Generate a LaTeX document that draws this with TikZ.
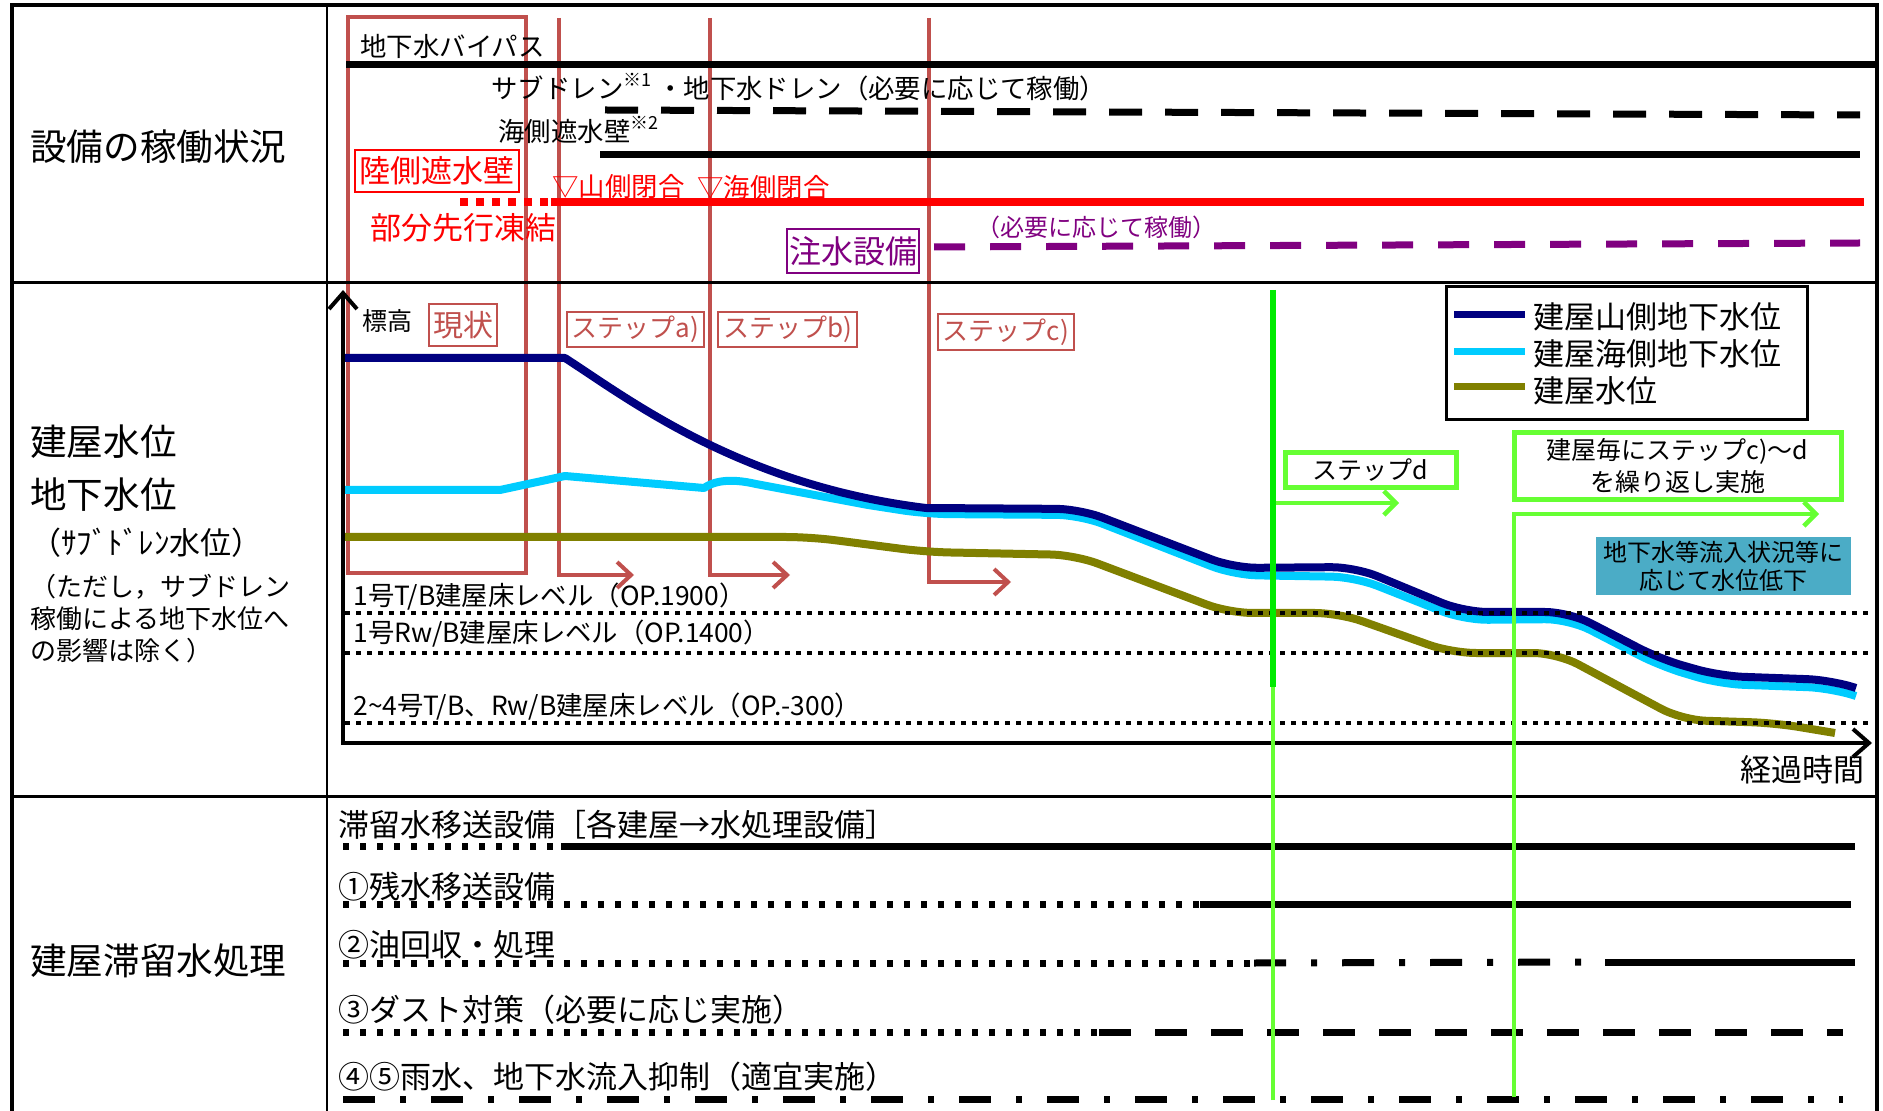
\documentclass[tikz,border=0pt]{standalone}
\usepackage{fontspec}
\setmainfont{Noto Sans CJK JP}
\usepackage{color,xcolor}
\usetikzlibrary{arrows.meta}

\definecolor{steprd}{RGB}{192,80,77}
\definecolor{yamaside}{RGB}{0,0,128}
\definecolor{umiside}{RGB}{0,204,255}
\definecolor{bldgwater}{RGB}{128,128,0}
\definecolor{injpurple}{RGB}{128,0,128}
\definecolor{brightgreen}{RGB}{0,235,0}
\definecolor{lightgreen}{RGB}{102,255,51}
\definecolor{infoblue}{RGB}{75,172,198}

\newcommand{\fsz}[1]{\fontsize{#1}{#1}\selectfont}

\begin{document}
\begin{tikzpicture}[x=0.5pt,y=-0.5pt,
    txt/.style={inner sep=0pt,anchor=west,font=\fsz{13.2}},
    head/.style={inner sep=0pt,anchor=west,font=\fsz{18.3}},
    stepbox/.style={draw=steprd,line width=1.2pt,text=steprd,fill=white,inner sep=0pt,minimum height=17.5pt,font=\fsz{13}},
    stepline/.style={steprd,line width=2pt,-{Straight Barb[length=7pt,width=13pt]}},
    bar/.style={line width=3.5pt},
    dots/.style={line width=3.5pt,dash pattern=on 3pt off 5.5pt},
    dashbar/.style={line width=3.5pt,dash pattern=on 16pt off 12pt},
    dashdot/.style={line width=3.5pt,dash pattern=on 16pt off 12.5pt on 3pt off 12.5pt},
    level/.style={line width=2pt,dash pattern=on 2.5pt off 3pt},
    curve/.style={line width=4pt,line join=round},
    gline/.style={lightgreen,line width=2.3pt,-{Straight Barb[length=6pt,width=12pt]}},
    gbox/.style={draw=lightgreen,line width=2.5pt,fill=white,inner sep=0pt},
  ]
            \useasboundingbox (0,0) rectangle (1883,1111);

            \draw[steprd,line width=2pt] (348,17) rectangle (526,573);
            \draw[stepline] (559,18) -- (559,575) -- (634,575);
            \draw[stepline] (710,18) -- (710,575) -- (790,575);
            \draw[stepline] (929,18) -- (929,582) -- (1011,582);

            \draw[line width=2pt] (12,1111) -- (12,5) -- (1877,5) -- (1877,1111);
            \draw[line width=1.5pt] (12,283) -- (1877,283);
            \draw[line width=1.5pt] (12,796) -- (1877,796);
            \draw[line width=1.2pt] (327,5) -- (327,1111);

            \node[head] (hdrplant) at (30,147) {設備の稼働状況};
            \node[head] (hdrbldg) at (30,442) {建屋水位};
            \node[head] (hdrground) at (30,495) {地下水位};
            \node[txt,font=\fsz{15.5}] (hdrsub) at (30,543) {（ｻﾌﾞﾄﾞﾚﾝ水位）};
            \node[txt,align=left,font=\fontsize{13}{16}\selectfont] (hdrnote) at (30,619) {（ただし，サブドレン\\稼働による地下水位へ\\の影響は除く）};
            \node[head] (hdrtreat) at (30,961) {建屋滞留水処理};

            \node[txt] (bypass) at (360,46) {地下水バイパス};
            \draw[bar] (346,65) -- (1877,65);
            \node[txt] (subdrain) at (491,87) {サブドレン\raisebox{.45em}{\fsz{9}※1}\hspace{3pt}・地下水ドレン（必要に応じて稼働）};
            \draw[dashbar,dash pattern=on 16.5pt off 11.5pt] (605,110) -- (1860,115);
            \node[txt] (seawall) at (498,130) {海側遮水壁\raisebox{.45em}{\fsz{9}※2}};
            \draw[bar] (600,155) -- (1860,155);

            \node[draw=red,line width=1pt,text=red,inner sep=0pt,minimum width=82pt,minimum height=21pt,font=\fsz{15.5}] (landwall) at (437,171) {陸側遮水壁};
            \node[txt,text=red,font=\fsz{15.5}] (partfreeze) at (370,228) {部分先行凍結};
            \node[txt,text=red] (yamaclose) at (552,187) {▽山側閉合};
            \node[txt,text=red] (umiclose) at (697,187) {▽海側閉合};
            \draw[red,line width=4pt,dash pattern=on 4pt off 4pt] (460,202) -- (551,202);
            \draw[red,line width=4pt] (551,202) -- (1864,202);

            \node[draw=injpurple,line width=1.2pt,text=injpurple,inner sep=0pt,minimum width=66pt,minimum height=22pt,font=\fsz{16}] (injection) at (853,251) {注水設備};
            \node[txt,text=injpurple,font=\fsz{12}] (injnote) at (976,227) {（必要に応じて稼働）};
            \draw[injpurple,line width=3.5pt,dash pattern=on 15.5pt off 12.5pt] (934,247) -- (1860,243);

            \node[stepbox,minimum width=34pt,minimum height=21pt,font=\fsz{15}] (now) at (463,325) {現状};
            \node[stepbox,minimum width=68.5pt] (stepa) at (635.5,329.5) {ステップa)};
            \node[stepbox,minimum width=69.5pt] (stepb) at (787.5,329.5) {ステップb)};
            \node[stepbox,minimum width=68pt,minimum height=18pt] (stepc) at (1006,332) {ステップc)};

            \node[txt,font=\fsz{12.5}] (elev) at (362,321) {標高};
            \node[txt,font=\fsz{15.5}] (elapsed) at (1740,770) {経過時間};

            \draw[umiside,curve] (345,490) -- (500,490) -- (565,476) -- (704,488) .. controls (714,481) and (730,478) .. (756,484) -- (868,505) [rounded corners=12pt] -- (926,514) -- (1080,515) -- (1234,575) -- (1355,577) -- (1464,620) -- (1569,619) -- (1660,666) -- (1720,684) -- (1831,688) -- (1856,696);
            \draw[yamaside,curve] (345,358) -- (565,358) .. controls (630,400) and (740,485) .. (926,508) [rounded corners=12pt] -- (1080,509) -- (1234,568) -- (1355,567) -- (1464,612) -- (1569,612) -- (1660,659) -- (1720,676) -- (1831,680) -- (1856,688);
            \draw[bldgwater,curve,rounded corners=12pt] (345,537) -- (810,537) -- (926,552) -- (1075,555) -- (1229,613) -- (1339,613) -- (1452,653) -- (1557,653) -- (1682,720) -- (1775,723) -- (1835,733);

            \draw[level] (345,613) -- (1868,613);
            \draw[level] (345,653) -- (1868,653);
            \draw[level] (345,723) -- (1868,723);
            \node[txt] (op1900) at (353,597) {1号T/B建屋床レベル（OP.1900）};
            \node[txt] (op1400) at (353,634) {1号Rw/B建屋床レベル（OP.1400）};
            \node[txt] (op300) at (353,707) {2\textasciitilde4号T/B、Rw/B建屋床レベル（OP.-300）};

            \draw[line width=2pt,{Straight Barb[length=8pt,width=14pt]}-{Straight Barb[length=8pt,width=14pt]}] (343,290) -- (343,743) -- (1872,743);

            \node[draw,line width=1.5pt,fill=white,inner sep=0pt,minimum width=180.5pt,minimum height=66.5pt] (legend) at (1626.5,353.5) {};
            \draw[yamaside,line width=3.5pt] (1454,315) -- (1525,315);
            \draw[umiside,line width=3.5pt] (1454,352) -- (1525,352);
            \draw[bldgwater,line width=3.5pt] (1454,387) -- (1525,387);
            \node[txt,font=\fsz{15.5}] (legyama) at (1533,317) {建屋山側地下水位};
            \node[txt,font=\fsz{15.5}] (legumi) at (1533,354) {建屋海側地下水位};
            \node[txt,font=\fsz{15.5}] (legbldg) at (1533,391) {建屋水位};

            \node[fill=infoblue,inner sep=0pt,minimum width=127.5pt,minimum height=29pt,align=center,font=\fontsize{12}{14}\selectfont] (lowering) at (1723.5,566) {地下水等流入状況等に\\応じて水位低下};

            \node[txt,font=\fsz{15.5}] (transfer) at (338,825) {滞留水移送設備［各建屋→水処理設備］};
            \node[txt,font=\fsz{15.5}] (residual) at (338,887) {①残水移送設備};
            \node[txt,font=\fsz{15.5}] (oil) at (338,945) {②油回収・処理};
            \node[txt,font=\fsz{15.5}] (dust) at (338,1010) {③ダスト対策（必要に応じ実施）};
            \node[txt,font=\fsz{15.5}] (rain) at (338,1077) {④⑤雨水、地下水流入抑制（適宜実施）};

            \draw[dots] (343,846) -- (561,846);
            \draw[bar] (561,846) -- (1855,846);
            \draw[dots] (343,904) -- (1200,904);
            \draw[bar] (1200,904) -- (1851,904);
            \draw[dots] (343,963) -- (1254,963);
            \draw[dashdot] (1254,963) -- (1605,962);
            \draw[bar] (1605,962) -- (1855,962);
            \draw[dots] (343,1032) -- (1099,1032);
            \draw[dashbar] (1099,1032) -- (1843,1032);
            \draw[dashdot] (343,1099) -- (1843,1099);

            \draw[gline] (1273,1100) -- (1273,503) -- (1399,503);
            \draw[gline] (1514,1097) -- (1514,514) -- (1819,514);
            \draw[brightgreen,line width=3pt] (1273,290) -- (1273,687);
            \node[gbox,minimum width=85.5pt,minimum height=17.5pt,font=\fsz{12.5}] (stepd) at (1370.5,470.5) {ステップd};
            \node[gbox,minimum width=163.5pt,minimum height=33.5pt,align=center,font=\fontsize{12.5}{16}\selectfont] (repeat) at (1677.5,466.5) {建屋毎にステップc)～d\\を繰り返し実施};
        \end{tikzpicture}
\end{document}
